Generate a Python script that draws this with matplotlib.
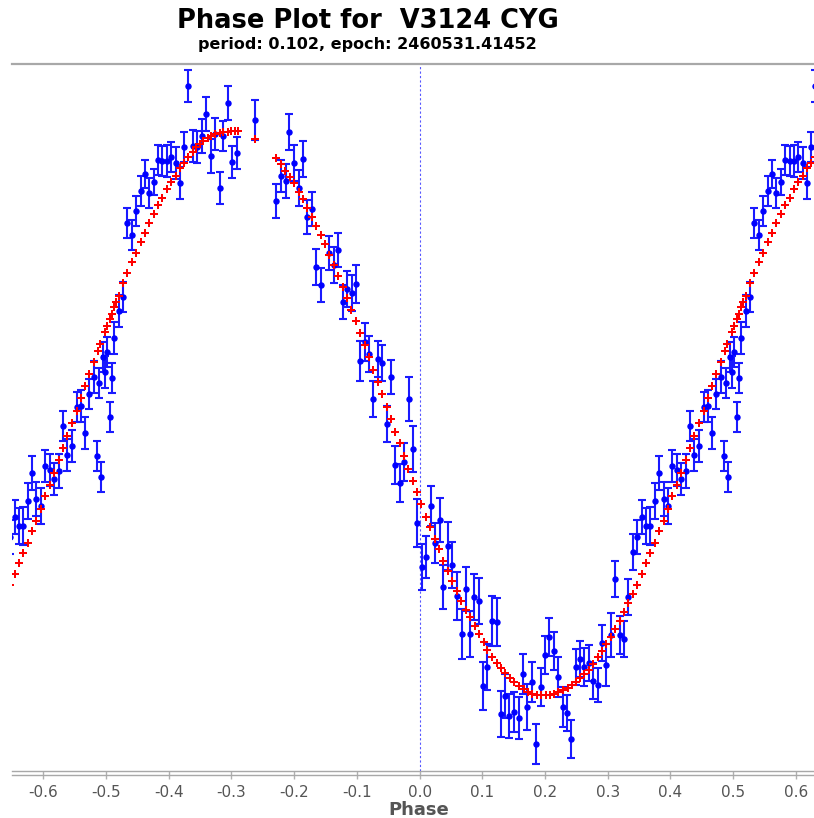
import numpy as np
import matplotlib
matplotlib.use("Agg")
import matplotlib.pyplot as plt

plt.rcParams['axes.unicode_minus'] = False
plt.rcParams['font.family'] = ['DejaVu Sans']

title = "Phase Plot for  V3124 CYG"
subtitle = "period: 0.102, epoch: 2460531.41452"
xlabel = "Phase"
xticks = [-0.6, -0.5, -0.4, -0.3, -0.2, -0.1, 0.0, 0.1, 0.2, 0.3, 0.4, 0.5, 0.6]
xtick_labels = ["-0.6", "-0.5", "-0.4", "-0.3", "-0.2", "-0.1", "0.0", "0.1", "0.2", "0.3", "0.4", "0.5", "0.6"]

# observations (one cycle; drawn again shifted by -1 phase)
obs_phase = [-0.369,-0.362,-0.355,-0.347,-0.341,-0.333,-0.327,-0.319,-0.313,-0.305,-0.299,-0.291,
             -0.263,
             -0.229,-0.221,-0.213,-0.209,
             -0.200,-0.193,-0.186,-0.179,-0.172,-0.165,-0.158,
             -0.144,-0.137,-0.130,-0.122,-0.116,-0.108,-0.101,
             -0.095,-0.087,-0.081,-0.074,-0.067,-0.060,-0.052,-0.046,
             -0.039,-0.031,-0.025,-0.017,-0.011,-0.004,
             0.004,0.010,0.018,0.025,0.032,0.038,0.046,0.052,0.060,0.067,0.074,0.081,0.087,0.094,0.101,0.108,
             0.116,0.123,0.130,0.136,0.143,0.151,0.158,0.165,0.171,0.179,0.186,0.193,0.200,0.207,0.214,0.221,
             0.228,0.235,0.242,0.249,0.256,0.263,0.270,
             0.277,0.284,0.291,0.298,0.305,0.312,0.319,0.326,0.333,0.340,0.347,0.354,0.361,0.368,0.376,0.382,
             0.389,0.396,0.403,0.410,0.417,0.425,0.431,0.438,0.445,
             0.453,0.460,0.467,0.473,0.480,0.485,0.488,0.492,0.495,0.498,0.502,0.506,0.509,0.513,
             0.520,0.527,0.534,0.541,0.548,0.555,0.562,0.569,0.576,0.583,0.590,0.597,0.604,0.611,0.618,0.625]
obs_mag = [12.022,12.082,12.083,12.072,12.050,12.092,12.070,12.124,12.072,12.039,12.098,12.089,
           12.056,
           12.137,12.112,12.117,12.068,
           12.099,12.124,12.095,12.153,12.145,12.203,12.221,
           12.189,12.201,12.186,12.238,12.225,12.229,12.220,
           12.297,12.278,12.290,12.335,12.295,12.299,12.360,12.313,
           12.401,12.419,12.398,12.335,12.385,12.459,
           12.503,12.493,12.442,12.479,12.456,12.523,12.482,12.501,12.532,12.570,12.525,12.570,12.533,12.537,12.622,12.603,
           12.557,12.558,12.650,12.632,12.652,12.648,12.654,12.610,12.643,12.618,12.680,12.623,12.591,12.573,12.587,12.613,
           12.643,12.649,12.675,12.603,12.595,12.603,12.599,
           12.617,12.621,12.579,12.601,12.571,12.515,12.571,12.575,12.533,12.488,12.473,12.453,12.462,12.462,12.437,12.409,
           12.435,12.442,12.402,12.406,12.415,12.407,12.362,12.391,12.382,
           12.343,12.342,12.369,12.330,12.313,12.392,12.319,12.413,12.293,12.308,12.288,12.353,12.314,12.274,
           12.247,12.233,12.159,12.171,12.147,12.127,12.110,12.129,12.118,12.096,12.097,12.097,12.093,12.099,12.119,12.083]
obs_err = [.016,.016,.016,.017,.017,.017,.016,.016,.015,.017,.016,.016,
           .020,
           .017,.016,.017,.018,
           .018,.018,.018,.017,.017,.018,.017,
           .017,.018,.017,.017,.018,.018,.019,
           .020,.019,.018,.018,.018,.018,.018,.017,
           .019,.019,.019,.022,.023,.024,
           .023,.021,.020,.020,.022,.022,.024,.023,.024,.025,.022,.023,.023,.023,.024,.023,
           .025,.024,.023,.022,.022,.020,.021,.020,.023,.020,.020,.019,.019,.019,.019,.020,
           .020,.018,.019,.018,.018,.019,.018,
           .018,.017,.018,.021,.022,.018,.019,.018,.018,.018,.017,.017,.018,.019,.018,.017,
           .017,.018,.016,.016,.016,.017,.015,.016,.016,
           .015,.016,.016,.015,.016,.015,.015,.015,.015,.016,.015,.015,.015,.016,
           .016,.015,.015,.015,.015,.015,.014,.015,.013,.015,.015,.016,.015,.016,.016,.015]

# model fit values
fit_phase = [-0.369,-0.362,-0.356,-0.350,-0.345,-0.338,-0.333,-0.326,-0.319,-0.313,-0.306,-0.300,-0.294,-0.289,
             -0.263,
             -0.229,-0.221,-0.214,-0.207,-0.200,-0.193,-0.186,-0.179,-0.172,-0.165,
             -0.158,-0.151,-0.144,-0.137,-0.130,-0.122,-0.116,-0.109,-0.101,-0.095,
             -0.087,-0.081,-0.074,-0.067,-0.060,-0.052,-0.045,-0.039,-0.032,-0.025,
             -0.018,-0.011,-0.004,
             0.003,0.010,0.017,0.024,0.031,0.038,0.045,0.052,0.059,0.066,
             0.074,0.081,0.088,0.094,0.102,0.108,0.116,0.123,0.130,0.137,
             0.144,0.151,0.159,0.166,0.173,0.180,0.187,0.194,0.201,0.208,
             0.215,0.221,0.228,0.236,0.243,0.250,0.256,0.263,0.270,0.277,
             0.284,0.291,0.298,0.305,0.312,0.319,0.326,0.333,0.340,0.347,
             0.354,0.361,0.368,0.376,0.382,0.389,0.396,0.403,0.410,0.417,
             0.425,0.431,0.438,0.445,0.453,0.460,0.467,0.473,0.480,0.487,
             0.491,0.498,0.502,0.506,0.509,0.513,0.516,0.520,0.527,0.534,
             0.541,0.548,0.555,0.562,0.569,0.576,0.583,0.590,0.597,0.604,
             0.611,0.618,0.625]
fit_mag = [12.093,12.088,12.083,12.080,12.077,12.074,12.072,12.070,12.069,12.068,12.068,12.067,12.067,12.067,
           12.075,
           12.094,12.100,12.107,12.113,12.119,12.128,12.135,12.144,12.153,12.162,
           12.171,12.180,12.191,12.201,12.212,12.223,12.234,12.246,12.257,12.269,
           12.281,12.293,12.306,12.318,12.330,12.343,12.355,12.368,12.379,12.392,
           12.405,12.417,12.428,
           12.440,12.453,12.463,12.475,12.485,12.497,12.507,12.517,12.527,12.537,
           12.546,12.553,12.562,12.570,12.578,12.586,12.593,12.599,12.604,12.609,
           12.614,12.618,12.622,12.625,12.628,12.630,12.631,12.631,12.631,12.631,
           12.630,12.628,12.626,12.624,12.621,12.618,12.614,12.610,12.606,12.600,
           12.593,12.587,12.580,12.573,12.565,12.557,12.548,12.539,12.530,12.521,
           12.510,12.499,12.489,12.479,12.467,12.457,12.445,12.432,12.421,12.409,
           12.396,12.384,12.372,12.359,12.347,12.334,12.322,12.310,12.298,12.287,
           12.280,12.268,12.262,12.255,12.250,12.243,12.238,12.232,12.219,12.209,
           12.198,12.189,12.178,12.169,12.159,12.150,12.141,12.134,12.125,12.118,
           12.112,12.104,12.099]

XMIN, XMAX = -0.650, 0.629

def fold(ph, *vals):
    ph = np.asarray(ph, float)
    allp = np.concatenate([ph, ph - 1.0, ph + 1.0])
    out = [np.concatenate([np.asarray(v, float)] * 3) for v in vals]
    m = (allp >= XMIN - 0.003) & (allp <= XMAX + 0.003)
    return [allp[m]] + [o[m] for o in out]

fig = plt.figure(figsize=(8.14, 8.18), dpi=100)
ax_h = (771 - 64) / 818
ax = fig.add_axes([12/814, 1 - 771/818, 802/814, ax_h])

bp, bm, be = fold(obs_phase, obs_mag, obs_err)
fp, fm = fold(fit_phase, fit_mag)

ax.axvline(0.0, color='#5555ff', lw=0.8, ls=(0, (2, 2)), zorder=1)
ax.errorbar(bp, bm, yerr=be, fmt='o', color='#0000ff', ecolor='#1a1aff', ms=3.6,
            elinewidth=1.5, capsize=3.2, capthick=1.5, zorder=2, clip_on=True)
ax.plot(fp, fm, 'P', color='#ff0000', ms=6.3, mew=0, zorder=3)

ax.set_xlim(XMIN, XMAX)
ax.set_ylim(12.707, 12.000)
ax.set_xticks(xticks)
ax.set_xticklabels(xtick_labels)
ax.set_yticks([])
for s in ['left', 'right']:
    ax.spines[s].set_visible(False)
ax.spines['top'].set_color('#a8a8a8')
ax.spines['top'].set_linewidth(1.6)
ax.spines['bottom'].set_color('#a8a8a8')
ax.spines['bottom'].set_linewidth(1.0)
off = 4 / 818 / ax_h
ax.plot([0, 1], [-off, -off], transform=ax.transAxes, color='#a8a8a8', lw=1.0, clip_on=False)
ax.tick_params(axis='x', direction='out', length=6, width=1, color='#b0b0b0',
               labelcolor='#555555', labelsize=11, pad=4)

fig.text(368/814, 1 - 21/818, title, ha='center', va='center', fontsize=18.5,
         fontweight='bold', color='black')
fig.text(367/814, 1 - 45/818, subtitle, ha='center', va='center', fontsize=11.5,
         fontweight='bold', color='black')
fig.text(419/814, 1 - 810/818, xlabel, ha='center', va='center', fontsize=13,
         fontweight='bold', color='#555555')

fig.savefig("out.png", dpi=100)
